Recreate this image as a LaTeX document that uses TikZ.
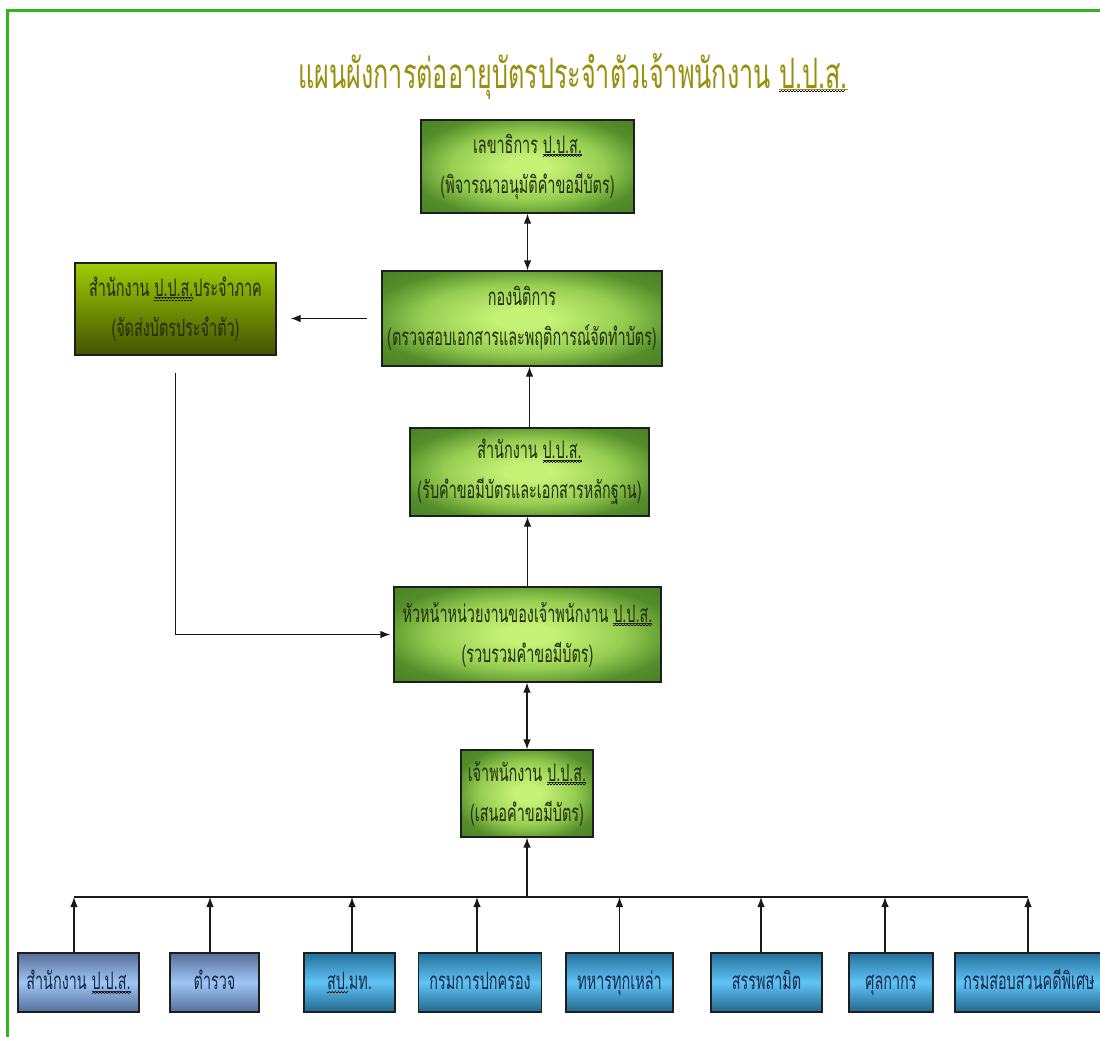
\documentclass[tikz,border=0pt]{standalone}
\usepackage{fontspec}
\usetikzlibrary{arrows.meta}
\newfontfamily\thai[Script=Thai,FakeStretch=0.6]{Loma}
\definecolor{pageg}{RGB}{52,180,28}
\definecolor{titlecol}{RGB}{152,144,12}
\definecolor{gin}{RGB}{198,242,118}
\definecolor{gmid}{RGB}{150,206,82}
\definecolor{gout}{RGB}{84,142,42}
\definecolor{gcorner}{RGB}{62,114,30}
\definecolor{ltop}{RGB}{160,205,5}
\definecolor{lbot}{RGB}{68,82,2}
\definecolor{txtg}{RGB}{35,45,10}
\definecolor{txtb}{RGB}{25,40,70}
\definecolor{sA}{RGB}{88,110,152}
\definecolor{mA}{RGB}{158,198,244}
\definecolor{bA}{RGB}{86,110,154}
\definecolor{sC}{RGB}{36,112,156}
\definecolor{mC}{RGB}{96,196,246}
\definecolor{bC}{RGB}{34,102,142}
\definecolor{wavecol}{RGB}{215,45,30}
\definecolor{edge}{RGB}{30,30,30}
\newsavebox\wavebit
\sbox\wavebit{\vrule height0.7pt depth0pt width1.5pt\raise1.1pt\hbox{\vrule height0.7pt depth0pt width1.5pt}}
\newcommand\ppsmark[2][1]{%
  \setbox0=\hbox{#2}%
  \setbox2=\vtop{\copy0\kern0.9pt
    \ifnum#1=1 \hrule height0.6pt width\wd0\kern0.6pt\fi
    \nointerlineskip
    \hbox to\wd0{\color{wavecol}\leaders\copy\wavebit\hfill}}%
  \dp2=\dp0 \leavevmode\box2}
\pgfdeclareradialshading{greenrad}{\pgfpoint{0bp}{0bp}}{color(0bp)=(gin); color(5bp)=(gin); color(18bp)=(gmid); color(28bp)=(gout); color(45bp)=(gcorner); color(50bp)=(gcorner)}
\begin{document}
\begin{tikzpicture}[x=1pt,y=-1pt,
  gbox/.style={draw=edge,line width=1.2pt,shading=greenrad,inner sep=0pt,align=center,
    text=txtg,font=\thai\fontsize{24}{40}\selectfont},
  lbox/.style={draw=edge,line width=1.2pt,top color=ltop,bottom color=lbot,inner sep=0pt,align=center,
    text=txtg,font=\thai\fontsize{24}{40}\selectfont},
  bboxA/.style={draw=edge,line width=1.2pt,top color=sA,bottom color=bA,middle color=mA,inner sep=0pt,minimum height=59pt,
    text height=17pt,text depth=3pt,text=txtb,font=\thai\fontsize{24}{30}\selectfont},
  bboxC/.style={draw=edge,line width=1.2pt,top color=sC,bottom color=bC,middle color=mC,inner sep=0pt,minimum height=59pt,
    text height=17pt,text depth=3pt,text=txtb,font=\thai\fontsize{24}{30}\selectfont},
  conn/.style={line width=1.2pt,draw=black!90},
  tip/.style={-{Latex[length=10pt,width=7.5pt]}},
  dtip/.style={{Latex[length=10pt,width=7.5pt]}-{Latex[length=10pt,width=7.5pt]}}
]
\useasboundingbox (0,0) rectangle (1100,1036);
\fill[white] (0,0) rectangle (1100,1036);
\draw[pageg,line width=2.6pt] (7.3,1040) -- (7.3,10.6) -- (1104,10.6);

\node[text=titlecol,font=\thai\fontsize{42}{42}\selectfont,inner sep=0pt] (title) at (573,76)
  {แผนผังการต่ออายุบัตรประจำตัวเจ้าพนักงาน \ppsmark{ป.ป.ส.}};

\node[gbox,minimum width=213pt,minimum height=93pt] (b1) at (527.5,166.5)
  {เลขาธิการ \ppsmark{ป.ป.ส.}\\(พิจารณาอนุมัติคำขอมีบัตร)};
\node[lbox,minimum width=201pt,minimum height=92pt] (lft) at (175.5,309)
  {สำนักงาน \ppsmark{ป.ป.ส.}ประจำภาค\\(จัดส่งบัตรประจำตัว)};
\node[gbox,minimum width=280pt,minimum height=95pt] (b3) at (522,318.5)
  {กองนิติการ\\(ตรวจสอบเอกสารและพฤติการณ์จัดทำบัตร)};
\node[gbox,minimum width=239pt,minimum height=88pt] (b4) at (529.5,472)
  {สำนักงาน \ppsmark{ป.ป.ส.}\\(รับคำขอมีบัตรและเอกสารหลักฐาน)};
\node[gbox,minimum width=267pt,minimum height=95pt] (b5) at (527.5,634.5)
  {หัวหน้าหน่วยงานของเจ้าพนักงาน \ppsmark{ป.ป.ส.}\\(รวบรวมคำขอมีบัตร)};
\node[gbox,minimum width=132pt,minimum height=87pt] (b6) at (527,793.5)
  {เจ้าพนักงาน \ppsmark{ป.ป.ส.}\\(เสนอคำขอมีบัตร)};

\node[bboxA,minimum width=121pt] (a) at (78.5,982.5) {สำนักงาน \ppsmark{ป.ป.ส.}};
\node[bboxA,minimum width=89pt] (b) at (214.5,982.5) {ตำรวจ};
\node[bboxC,minimum width=91pt] (c) at (349.5,982.5) {\ppsmark[0]{สป.}มท.};
\node[bboxC,minimum width=123pt] (d) at (480,982.5) {กรมการปกครอง};
\node[bboxC,minimum width=107pt] (e) at (619.5,982.5) {ทหารทุกเหล่า};
\node[bboxC,minimum width=111pt] (f) at (766.5,982.5) {สรรพสามิต};
\node[bboxC,minimum width=84pt] (g) at (891,982.5) {ศุลกากร};
\node[bboxC,minimum width=148pt] (h) at (1029,982.5) {กรมสอบสวนคดีพิเศษ};

\coordinate (bus) at (528,897);

% vertical chain
\draw[conn,dtip] (b1.south) -- (b1.south |- b3.north);
\draw[conn,tip] (b4.north) -- (b4.north |- b3.south);
\draw[conn,tip] (b5.north) -- (b5.north |- b4.south);
\draw[conn,dtip] (b6.north) -- (b6.north |- b5.south);
% to regional office
\draw[conn,tip,shorten <=14pt,shorten >=14pt] (b3.west) -- (b3.west -| lft.east);
% regional office to head of unit
\draw[conn,tip,shorten <=17pt,shorten >=3pt] (lft.south) |- (b5.west);
% bus
\draw[conn] ([xshift=-4.5pt]a.north |- bus) -- ([xshift=-1pt]h.north |- bus);
\draw[conn,tip] (b6.south |- bus) -- (b6.south);
\draw[conn,tip] ([xshift=-4.5pt]a.north) -- ([xshift=-4.5pt]a.north |- bus);
\draw[conn,tip] ([xshift=-4.5pt]b.north) -- ([xshift=-4.5pt]b.north |- bus);
\draw[conn,tip] ([xshift=2.5pt]c.north) -- ([xshift=2.5pt]c.north |- bus);
\draw[conn,tip] ([xshift=-3pt]d.north) -- ([xshift=-3pt]d.north |- bus);
\draw[conn,tip] (e.north) -- (e.north |- bus);
\draw[conn,tip] ([xshift=-5.5pt]f.north) -- ([xshift=-5.5pt]f.north |- bus);
\draw[conn,tip] ([xshift=-6pt]g.north) -- ([xshift=-6pt]g.north |- bus);
\draw[conn,tip] ([xshift=-1pt]h.north) -- ([xshift=-1pt]h.north |- bus);
\end{tikzpicture}
\end{document}
